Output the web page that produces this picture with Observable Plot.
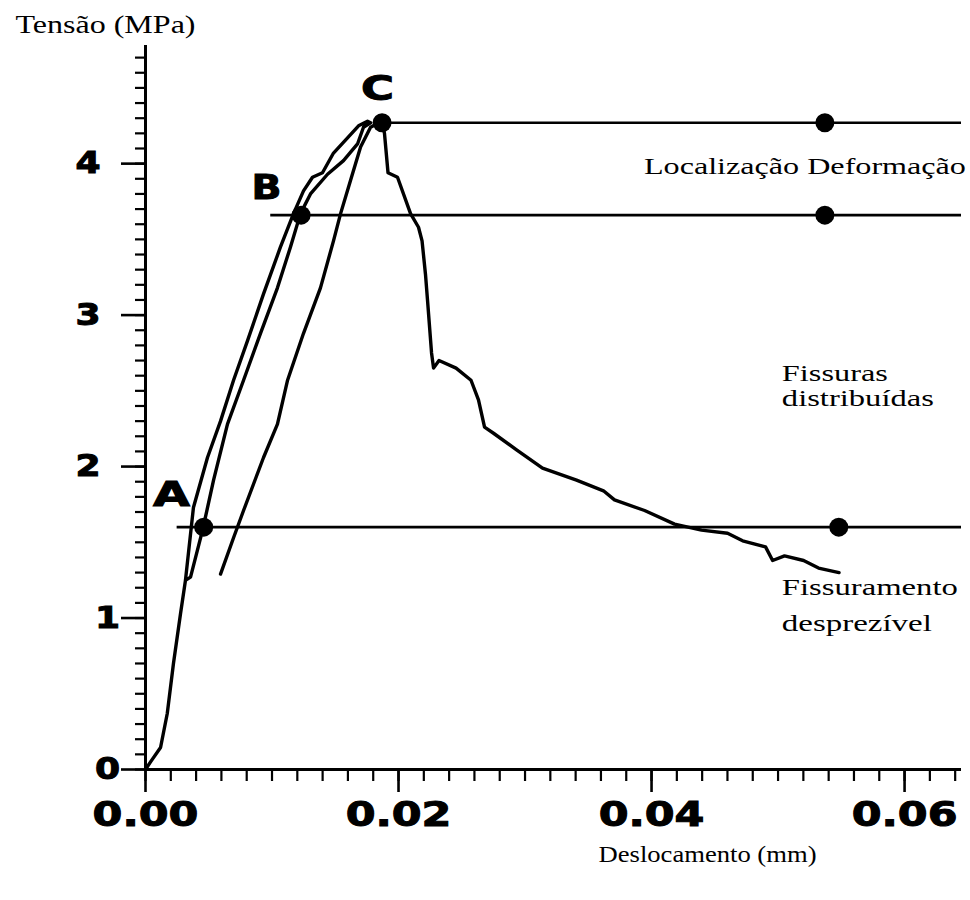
<!DOCTYPE html>
<html>
<head>
<meta charset="utf-8">
<script src="https://cdn.jsdelivr.net/npm/d3@7"></script>
<script src="https://cdn.jsdelivr.net/npm/@observablehq/plot@0.6"></script>
<style>
  html, body { margin: 0; padding: 0; background: #fff; }
</style>
</head>
<body>
<div id="chart"></div>
<script>
// ---- Dados ----
const xTicks = [0, 0.02, 0.04, 0.06];
const xTickLabels = ["0.00", "0.02", "0.04", "0.06"];
const yTicks = [0, 1, 2, 3, 4];
const yTickLabels = ["0", "1", "2", "3", "4"];
const xMax = 0.0645;
const yMax = 4.78;

// ciclo de carga / descarga (deslocamento mm, tensão MPa)
const cicloX = [0, 0.0004, 0.00119, 0.00172, 0.00221, 0.00277, 0.00316, 0.00379, 0.0049, 0.00593, 0.00696, 0.00806, 0.00933, 0.01067, 0.0117, 0.01249, 0.0132, 0.01399, 0.01486, 0.01597, 0.01684, 0.01755, 0.01779, 0.01723, 0.01676, 0.01565, 0.01439, 0.01304, 0.01225, 0.01146, 0.01043, 0.00909, 0.00775, 0.00648, 0.00538, 0.00451, 0.00356, 0.00316];
const cicloY = [0, 0.05, 0.145, 0.37, 0.70, 1.03, 1.25, 1.73, 2.06, 2.30, 2.57, 2.83, 3.14, 3.45, 3.67, 3.82, 3.91, 3.94, 4.07, 4.17, 4.25, 4.28, 4.27, 4.24, 4.13, 4.02, 3.93, 3.80, 3.67, 3.45, 3.18, 2.88, 2.57, 2.28, 1.91, 1.58, 1.27, 1.25];

// recarga até o pico C e ramo de amolecimento
const recargaX = [0.00593, 0.00696, 0.00775, 0.00933, 0.01043, 0.01123, 0.01249, 0.01383, 0.01486, 0.01542, 0.01621, 0.017, 0.01779, 0.01866, 0.01889, 0.01917, 0.01992, 0.02095, 0.02158, 0.02186, 0.02213, 0.02229, 0.02261, 0.02277, 0.0232, 0.02455, 0.02573, 0.02632, 0.0268, 0.02751, 0.02933, 0.03138, 0.03407, 0.0362, 0.03707, 0.03945, 0.04182, 0.04395, 0.04601, 0.0472, 0.04901, 0.04957, 0.05051, 0.05202, 0.0532, 0.05482];
const recargaY = [1.29, 1.53, 1.71, 2.06, 2.28, 2.57, 2.88, 3.18, 3.49, 3.67, 3.89, 4.11, 4.24, 4.28, 4.20, 3.94, 3.91, 3.67, 3.58, 3.49, 3.27, 3.10, 2.75, 2.65, 2.70, 2.65, 2.57, 2.44, 2.26, 2.22, 2.11, 1.99, 1.91, 1.84, 1.78, 1.71, 1.62, 1.58, 1.56, 1.51, 1.47, 1.38, 1.41, 1.38, 1.33, 1.30];

// limiares A, B, C
const limiarNome = ["A", "B", "C"];
const limiarTensao = [1.60, 3.66, 4.27];
const limiarInicio = [0.0025, 0.0099, 0.0187];
const pontoX = [0.0046, 0.0123, 0.0187];
const pontoDireitaX = [0.0548, 0.0537, 0.0537];
const rotuloX = [0.00206, 0.00957, 0.01834];
const rotuloY = [1.81, 3.84, 4.49];

// anotações das regiões
const anotTexto = ["Localização Deformação", "Fissuras", "distribuídas", "Fissuramento", "desprezível"];
const anotX = [0.0394, 0.0503, 0.0503, 0.0503, 0.0503];
const anotY = [3.934, 2.568, 2.403, 1.149, 0.917];

// ---- Tabelas ----
const curvas = [
  ...cicloX.map((x, i) => ({serie: "ciclo", x, y: cicloY[i]})),
  ...recargaX.map((x, i) => ({serie: "recarga", x, y: recargaY[i]}))
];
const limiares = limiarNome.map((n, i) => ({nome: n, y: limiarTensao[i], x1: limiarInicio[i], x2: xMax}));
const pontos = [
  ...limiarNome.map((n, i) => ({x: pontoX[i], y: limiarTensao[i]})),
  ...limiarNome.map((n, i) => ({x: pontoDireitaX[i], y: limiarTensao[i]}))
];
const rotulos = limiarNome.map((n, i) => ({t: n, x: rotuloX[i], y: rotuloY[i]}));
const anot = anotTexto.map((t, i) => ({t, x: anotX[i], y: anotY[i]}));

const xMenor = d3.range(0, 32.5).map(i => +(i * 0.002).toFixed(4));
const yMenor = d3.range(0, 47.5).map(i => +(i * 0.1).toFixed(1));

const bold = "DejaVu Sans";
const serif = "Liberation Serif";
const rotuloY_ = d => yTickLabels[yTicks.indexOf(d)];

const svg = Plot.plot({
  width: 970,
  height: 900,
  marginLeft: 145,
  marginRight: 9,
  marginTop: 45,
  marginBottom: 131,
  x: {domain: [0, xMax]},
  y: {domain: [0, yMax]},
  style: {background: "#fff", color: "#000", overflow: "visible"},
  marks: [
    // ticks secundários
    Plot.axisX({ticks: xMenor, tickSize: 12, tickFormat: () => "", strokeWidth: 2.2, label: null}),
    Plot.axisY({ticks: yMenor, tickSize: 10, tickFormat: () => "", strokeWidth: 2.2, label: null}),
    // ticks principais
    Plot.axisX({ticks: xTicks, tickSize: 23, tickPadding: 10, strokeWidth: 2.6,
      tickFormat: d => xTickLabels[xTicks.indexOf(d)], fontSize: 33, fontFamily: bold, fontWeight: "bold", label: null}),
    Plot.axisY({ticks: yTicks, tickSize: 24, tickFormat: () => "", strokeWidth: 2.6, label: null}),
    // rótulos do eixo y
    Plot.text(yTicks.filter(v => v >= 2), {x: 0, y: d => d, text: rotuloY_, textAnchor: "end", dx: -45, fontSize: 30, fontFamily: bold, fontWeight: "bold"}),
    Plot.text(yTicks.filter(v => v < 2), {x: 0, y: d => d, text: rotuloY_, textAnchor: "middle", dx: -38, fontSize: 30, fontFamily: bold, fontWeight: "bold"}),
    // eixos
    Plot.ruleY([0], {x1: 0, x2: xMax, strokeWidth: 3}),
    Plot.ruleX([0], {y1: 0, y2: yMax, strokeWidth: 3}),
    // linhas horizontais dos limiares
    Plot.ruleY(limiares, {y: "y", x1: "x1", x2: "x2", strokeWidth: 2.6}),
    // curvas tensão-deslocamento
    Plot.line(curvas, {x: "x", y: "y", z: "serie", stroke: "#000", strokeWidth: 3.4, strokeLinejoin: "round", strokeLinecap: "round"}),
    // pontos
    Plot.dot(pontos, {x: "x", y: "y", r: 9.5, fill: "#000", stroke: "none"}),
    // rótulos A B C
    Plot.text(rotulos, {x: "x", y: "y", text: "t", fontSize: 34, fontFamily: bold, fontWeight: "bold"}),
    // anotações
    Plot.text(anot, {x: "x", y: "y", text: "t", textAnchor: "start", lineAnchor: "bottom", fontSize: 24, fontFamily: serif}),
    // títulos dos eixos
    Plot.text(["Tensão (MPa)"], {frameAnchor: "top-left", text: d => d, dx: -130, dy: -13, textAnchor: "start", lineAnchor: "bottom", fontSize: 25, fontFamily: serif}),
    Plot.text(["Deslocamento (mm)"], {frameAnchor: "bottom-left", text: d => d, dx: 453, dy: 92, textAnchor: "start", lineAnchor: "bottom", fontSize: 23, fontFamily: serif})
  ]
});

document.getElementById("chart").appendChild(svg);

// alargar os textos horizontalmente, como no original (largura em px)
const larguraAlvo = {
  "Tensão (MPa)": 180,
  "Deslocamento (mm)": 218,
  "Localização Deformação": 322,
  "Fissuras": 106,
  "distribuídas": 152,
  "Fissuramento": 176,
  "desprezível": 150,
  "A": 37, "B": 30, "C": 33
};
svg.querySelectorAll('g[aria-label="x-axis tick label"]').forEach(g => {
  g.setAttribute("font-weight", "bold");
  g.setAttribute("font-family", bold);
});
svg.querySelectorAll("text").forEach(t => {
  const s = t.textContent;
  const w = t.getComputedTextLength();
  if (!(w > 0)) return;
  let alvo = larguraAlvo[s];
  let pesado = ["A", "B", "C"].includes(s);
  if (alvo === undefined) {
    if (xTickLabels.includes(s)) { alvo = w * 1.3; pesado = true; }
    else if (yTickLabels.includes(s)) { alvo = w * 1.2; pesado = true; }
  }
  if (alvo !== undefined) {
    t.setAttribute("textLength", alvo.toFixed(1));
    t.setAttribute("lengthAdjust", "spacingAndGlyphs");
  }
  if (pesado) {
    t.setAttribute("stroke", "#000");
    t.setAttribute("stroke-width", "1");
  }
});
</script>
</body>
</html>
